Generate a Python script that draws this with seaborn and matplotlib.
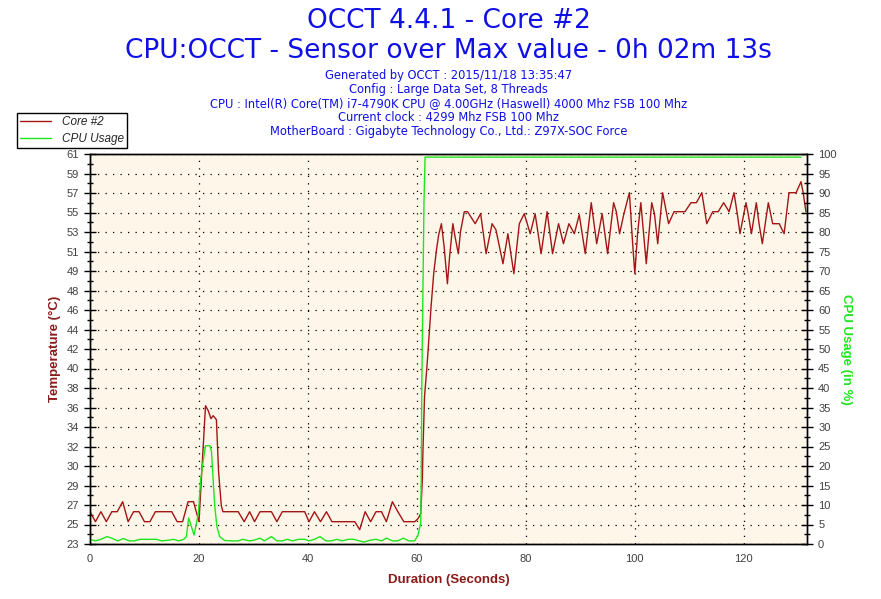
import pandas as pd
import numpy as np
import matplotlib
matplotlib.use('Agg')
import matplotlib.pyplot as plt
import seaborn as sns

# Temperature of Core #2 (seconds, degC)
temp_time = [0, 1, 2, 3, 4, 5, 6, 7, 8, 9, 10, 11, 12, 13, 14, 15, 16, 17, 18, 19, 20,
             21.2, 21.7, 22.2, 22.6, 23.2, 23.6, 24.1, 24.4, 27.2, 28.3, 29.3, 30.2, 31.2,
             33.3, 34.3, 35.3, 39.4, 40.2, 41.2, 42.3, 43.4, 44.4, 48.6, 49.5, 50.5, 51.5,
             52.5, 53.5, 54.4, 55.5, 56.5, 57.6, 59.6, 60.2, 60.7, 61.0, 61.1, 61.4, 61.8,
             62.1, 62.6, 63.1, 63.6, 64.0, 64.5, 65.0, 65.6, 66.0, 66.6, 67.0, 67.6, 68.0,
             68.7, 69.3, 70.7, 71.7, 72.7, 73.8, 74.5, 75.8, 76.7, 77.8, 78.8, 79.7, 80.8,
             81.7, 82.8, 83.9, 84.9, 86.0, 86.9, 87.9, 88.9, 89.8, 90.9, 92.0, 93.0, 94.0,
             95.0, 96.1, 96.6, 97.2, 98.0, 99.0, 99.6, 100.0, 100.5, 101.1, 101.6, 102.1,
             102.6, 103.1, 103.6, 104.2, 105.1, 106.2, 107.2, 109.2, 110.3, 111.3, 112.3,
             113.2, 114.3, 115.3, 116.3, 117.3, 118.2, 118.8, 119.3, 120.4, 120.8, 121.4,
             122.3, 122.8, 123.4, 124.5, 125.3, 126.5, 127.4, 128.3, 129.6, 130.5, 130.9,
             131.4]
temp_c = [26, 25, 26, 25, 26, 26, 27, 25, 26, 26, 25, 25, 26, 26, 26, 26, 25, 25, 27, 27, 25,
          36.6, 36.1, 35.3, 35.6, 35.2, 30, 26.6, 26, 26, 25, 26, 25, 26,
          26, 25, 26, 26, 25, 26, 25, 26, 25, 25, 24.2, 26, 25,
          26, 26, 25, 27, 26, 25, 25, 25.3, 25.8, 29.2, 31.9, 37.5, 40.2,
          42.5, 46.5, 49.9, 52.2, 53.7, 54.8, 52.5, 48.8, 51.5, 54.8, 53.5, 51.8, 54,
          56, 56, 54.8, 55.8, 51.8, 54.8, 54.2, 50.8, 53.8, 49.8, 54.8, 55.8, 53.8,
          55.8, 51.8, 56, 51.8, 54.8, 52.8, 54.8, 53.8, 55.7, 51.8, 56.9, 52.8, 55.8,
          51.8, 56.9, 56, 53.8, 55.8, 57.9, 52.8, 49.8, 53.8, 56.9, 53.8, 50.8,
          53.8, 56.9, 55.8, 52.8, 57.9, 54.8, 56, 56, 56.9, 56.9, 57.9,
          54.8, 56, 56, 56.9, 56, 57.9, 55.8, 53.8, 56.9, 55.8, 53.8,
          56.9, 54.8, 52.8, 56.9, 54.8, 54.8, 53.8, 57.9, 57.9, 59, 57.9,
          56]

# CPU usage (seconds, %)
cpu_time = [0, 1, 2, 3.1, 4, 5.1, 6.1, 7.2, 8.1, 9.2, 12.2, 13.2, 14.5, 15.3, 16.3, 17.2,
            17.7, 18.1, 19.1, 19.9, 20.3, 20.8, 21.2, 22.0, 22.3, 22.6, 22.9, 23.3, 23.8,
            24.7, 26, 27.2, 28, 29.3, 30.2, 31.2, 32, 33.3, 34.3, 35.3, 36.2, 37.2, 38.3,
            39.4, 40.2, 41.2, 42.2, 43.3, 44.3, 45.3, 46.3, 47.4, 48.4, 49.4, 50.3, 51.5,
            52.5, 53.5, 54.4, 55.5, 56.5, 57.5, 58.5, 59.6, 60.2, 60.7, 60.8, 60.9, 61.1,
            61.3, 61.5, 130.5]
cpu_pct = [1.2, 0.8, 1.2, 1.9, 1.5, 0.8, 1.4, 0.8, 0.8, 1.2, 1.2, 0.8, 1.0, 1.2, 0.8, 1.2,
           1.9, 6.7, 2.3, 7.9, 16.4, 21.5, 25.2, 25.2, 23.7, 16.4, 9.6, 4.4, 1.9,
           0.9, 0.8, 0.8, 1.2, 0.8, 1.0, 1.5, 0.8, 1.9, 0.8, 0.8, 1.2, 0.8, 1.2,
           1.2, 0.8, 1.2, 1.9, 0.8, 0.8, 1.2, 0.8, 1.2, 1.2, 0.8, 0.5, 1.0,
           1.2, 0.8, 1.5, 0.8, 0.8, 1.5, 0.8, 0.8, 2.3, 5.3, 16.8, 40.3, 64.3,
           87.8, 99.2, 99.2]

# left axis labels as printed by OCCT
temp_labels = ['23', '25', '27', '29', '30', '32', '34', '36', '38', '40', '42',
               '44', '46', '48', '49', '51', '53', '55', '57', '59', '61']

title_lines = ['Generated by OCCT : 2015/11/18 13:35:47',
               'Config : Large Data Set, 8 Threads',
               'CPU : Intel(R) Core(TM) i7-4790K CPU @ 4.00GHz (Haswell) 4000 Mhz FSB 100 Mhz',
               'Current clock : 4299 Mhz FSB 100 Mhz',
               'MotherBoard : Gigabyte Technology Co., Ltd.: Z97X-SOC Force']

RED = '#A31616'
GREEN = '#1EE61E'
BLUE = '#1010E6'
T_LO, T_HI = 22.77, 61.77

temp_df = pd.DataFrame({'Seconds': temp_time, 'Temp': temp_c})
cpu_df = pd.DataFrame({'Seconds': cpu_time, 'CPU': cpu_pct})

sns.set_style('white')
plt.rcParams['font.family'] = ['Liberation Sans', 'DejaVu Sans']

W, H = 881, 599
fig = plt.figure(figsize=(W / 100, H / 100), dpi=100)
ax = fig.add_axes([90 / W, 55 / H, 717 / W, 390 / H])
ax.set_facecolor('#FDF6E9')
ax2 = ax.twinx()

sns.lineplot(data=temp_df, x='Seconds', y='Temp', ax=ax, color=RED, linewidth=1, legend=False)
sns.lineplot(data=cpu_df, x='Seconds', y='CPU', ax=ax2, color=GREEN, linewidth=1, legend=False)

ax.set_xlim(0, 131.6)
ax.set_ylim(T_LO, T_HI)
ax2.set_ylim(0, 100)

ax.set_xticks(np.arange(0, 121, 20))
ax.set_xticks(np.arange(0, 131, 5), minor=True)
ypos = np.linspace(T_LO, T_HI, 21)
ax.set_yticks(ypos)
ax.set_yticklabels(temp_labels)
ax.set_yticks((ypos[:-1] + ypos[1:]) / 2, minor=True)
ax2.set_yticks(np.arange(0, 101, 5))
ax2.set_yticks(np.arange(2.5, 100, 5), minor=True)

for a in (ax, ax2):
    a.tick_params(which='major', direction='inout', length=9, width=1, color='black',
                  labelsize=8, labelcolor='#404040')
    a.tick_params(which='minor', direction='inout', length=5, width=1, color='black')
    for s in a.spines.values():
        s.set_color('black')
        s.set_linewidth(1)
ax.tick_params(axis='x', which='major', pad=3)

ax.grid(True, which='major', color='black', linestyle=(0, (1, 5)), linewidth=0.9)
ax2.grid(False)

ax.set_xlabel('Duration (Seconds)', color='#8B1A1A', fontweight='bold', fontsize=9.5, labelpad=7)
ax.set_ylabel('Temperature (°C)', color='#8B1A1A', fontweight='bold', fontsize=9.5, labelpad=4)
ax2.set_ylabel('CPU Usage (in %)', color=GREEN, fontweight='bold', fontsize=9.5,
               rotation=270, labelpad=11)

cx = 448.5 / W
fig.text(cx, 1 - 21.5 / H, 'OCCT 4.4.1 - Core #2', ha='center', va='center',
         color=BLUE, fontsize=19, family='DejaVu Sans')
fig.text(cx, 1 - 51 / H, 'CPU:OCCT - Sensor over Max value - 0h 02m 13s', ha='center',
         va='center', color=BLUE, fontsize=19, family='DejaVu Sans')
for i, line in enumerate(title_lines):
    fig.text(cx, 1 - (76 + 13.9 * i) / H, line, ha='center', va='center', color=BLUE,
             fontsize=8.3, family='DejaVu Sans')

fig.legend([ax.lines[0], ax2.lines[0]], ['Core #2', 'CPU Usage'], loc='upper left',
           bbox_to_anchor=(17 / W, 1 - 113 / H), frameon=True, fancybox=False,
           edgecolor='black', framealpha=1, prop={'style': 'italic', 'size': 8.5},
           borderaxespad=0, handlelength=2.6, borderpad=0.25, labelspacing=0.4,
           handletextpad=1.0)
fig.legends[0].get_frame().set_linewidth(1)

fig.savefig('out.png', dpi=100)
